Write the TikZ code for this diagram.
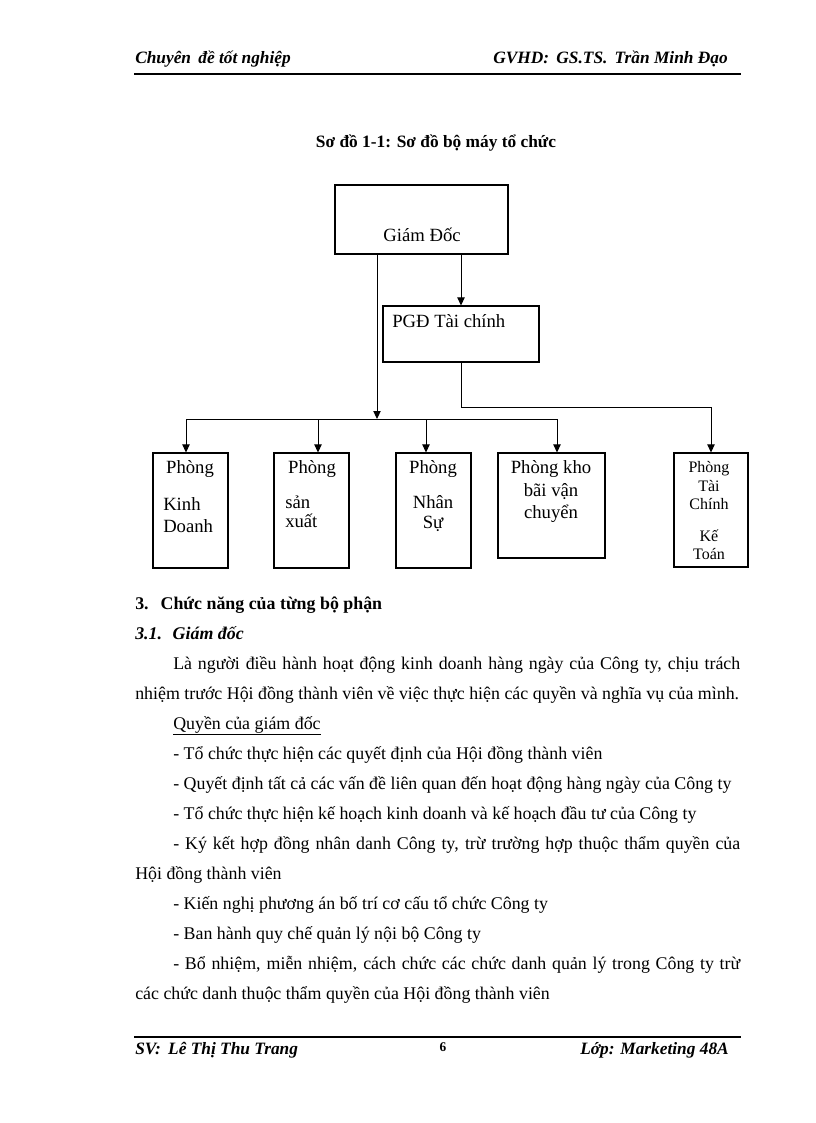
\documentclass[tikz,border=0pt]{standalone}
\usepackage{fontspec}
\setmainfont{Liberation Serif}
\usetikzlibrary{arrows.meta}
\newcommand{\bodyf}{\fontsize{13.4}{15}\selectfont}
\newcommand{\diagf}{\fontsize{14}{16}\selectfont}
\newcommand{\titlef}{\fontsize{13}{15}\selectfont\bfseries}
\newcommand{\smallf}{\fontsize{12}{14}\selectfont}
\newcommand{\headf}{\fontsize{13}{15}\selectfont\bfseries\itshape}
\tikzset{
  box/.style={draw, line width=0.8pt, inner sep=0pt},
  lbl/.style={inner sep=0pt, anchor=base, font=\diagf},
  lblw/.style={inner sep=0pt, anchor=base west, font=\diagf},
  slbl/.style={inner sep=0pt, anchor=base, font=\smallf},
  txt/.style={inner sep=0pt, anchor=base west, font=\bodyf},
  head/.style={inner sep=0pt, font=\headf},
  arr/.style={-{Triangle[length=6pt,width=5.5pt]}, line width=0.75pt},
  conn/.style={line width=0.75pt},
  rule/.style={line width=1.6pt}
}
\begin{document}
\begin{tikzpicture}[x=0.75pt,y=-0.75pt]
\useasboundingbox (0,0) rectangle (816,1123);
% header
\node[head, anchor=base west] (h1) at (135,64) {Chuyên\, đề tốt nghiệp};
\node[head, anchor=base east] (h2) at (728,64) {GVHD:\, GS.TS.\, Trần Minh Đạo};
\draw[rule] (134,74) -- (741,74);
% title
\node[inner sep=0pt, anchor=base, font=\titlef] (title) at (436,148) {Sơ đồ 1-1: Sơ đồ bộ máy tổ chức};
% boxes
\node[box, minimum width=129.75pt, minimum height=51.75pt] (gd) at (421.5,219.5) {};
\node[box, minimum width=117pt, minimum height=42pt] (pgd) at (461,334) {};
\node[box, minimum width=56.25pt, minimum height=86.25pt] (b1) at (190.5,510.5) {};
\node[box, minimum width=56.25pt, minimum height=86.25pt] (b2) at (311.5,510.5) {};
\node[box, minimum width=56.25pt, minimum height=86.25pt] (b3) at (433.5,510.5) {};
\node[box, minimum width=80.25pt, minimum height=78.75pt] (b4) at (551.5,505.5) {};
\node[box, minimum width=55.5pt, minimum height=85.5pt] (b5) at (711,510) {};
% box texts
\node[lbl] (gdt) at (422,242) {Giám Đốc};
\node[lblw] (pgdt) at (392,327) {PGĐ Tài chính};
\node[lbl] (b1a) at (190,473) {Phòng};
\node[lblw] (b1b) at (163,510) {Kinh};
\node[lblw] (b1c) at (163,532) {Doanh};
\node[lbl] (b2a) at (312,473) {Phòng};
\node[lblw] (b2b) at (285,508) {sản};
\node[lblw] (b2c) at (285,527) {xuất};
\node[lbl] (b3a) at (433,473) {Phòng};
\node[lbl] (b3b) at (433,508) {Nhân};
\node[lbl] (b3c) at (433,528) {Sự};
\node[lbl] (b4a) at (551,473) {Phòng kho};
\node[lbl] (b4b) at (551,496) {bãi vận};
\node[lbl] (b4c) at (551,518) {chuyển};
\node[slbl] (b5a) at (709,472) {Phòng};
\node[slbl] (b5b) at (709,491) {Tài};
\node[slbl] (b5c) at (709,509) {Chính};
\node[slbl] (b5d) at (709,541) {Kế};
\node[slbl] (b5e) at (709,559) {Toán};
% connectors
\coordinate (tb) at (377,419);
\coordinate (t1) at (186,419);
\coordinate (t2) at (318,419);
\coordinate (t3) at (426,419);
\coordinate (t4) at (557,419);
\coordinate (k5) at (711,407);
\draw[arr] (gd.south -| tb) -- (tb);
\draw[conn] (t1) -- (t4);
\draw[arr] (t1) -- (t1 |- b1.north);
\draw[arr] (t2) -- (t2 |- b2.north);
\draw[arr] (t3) -- (t3 |- b3.north);
\draw[arr] (t4) -- (t4 |- b4.north);
\draw[arr] (gd.south -| pgd.north) -- (pgd.north);
\draw[arr] (pgd.south) |- (k5) -- (b5.north);
% body text
\node[txt, font=\bodyf\bfseries] (s3) at (135,609) {3.\hspace{9pt}Chức năng của từng bộ phận};
\node[txt, font=\bodyf\bfseries\itshape] (s31) at (135,639) {3.1.\hspace{8pt}Giám đốc};
\node[txt] (l1) at (173,669) {\makebox[425.25pt][s]{Là người điều hành hoạt động kinh doanh hàng ngày của Công ty, chịu trách}};
\node[txt] (l2) at (135,699) {nhiệm trước Hội đồng thành viên về việc thực hiện các quyền và nghĩa vụ của mình.};
\node[txt] (l3) at (173,729) {\underline{Quyền của giám đốc}};
\node[txt] (l4) at (173,759) {- Tổ chức thực hiện các quyết định của Hội đồng thành viên};
\node[txt] (l5) at (173,789) {- Quyết định tất cả các vấn đề liên quan đến hoạt động hàng ngày của Công ty};
\node[txt] (l6) at (173,819) {- Tổ chức thực hiện kế hoạch kinh doanh và kế hoạch đầu tư của Công ty};
\node[txt] (l7) at (173,849) {\makebox[425.25pt][s]{- Ký kết hợp đồng nhân danh Công ty, trừ trường hợp thuộc thẩm quyền của}};
\node[txt] (l8) at (135,879) {Hội đồng thành viên};
\node[txt] (l9) at (173,909) {- Kiến nghị phương án bố trí cơ cấu tổ chức Công ty};
\node[txt] (l10) at (173,939) {- Ban hành quy chế quản lý nội bộ Công ty};
\node[txt] (l11) at (173,969) {\makebox[425.25pt][s]{- Bổ nhiệm, miễn nhiệm, cách chức các chức danh quản lý trong Công ty trừ}};
\node[txt] (l12) at (135,999) {các chức danh thuộc thẩm quyền của Hội đồng thành viên};
% footer
\draw[rule] (134,1037) -- (741,1037);
\node[head, anchor=base west] (f1) at (135,1054) {SV:\, Lê Thị Thu Trang};
\node[inner sep=0pt, anchor=base, font=\fontsize{10}{12}\selectfont\bfseries] (pg) at (443,1051) {6};
\node[head, anchor=base east] (f2) at (729,1054) {Lớp: Marketing 48A};
\end{tikzpicture}
\end{document}
